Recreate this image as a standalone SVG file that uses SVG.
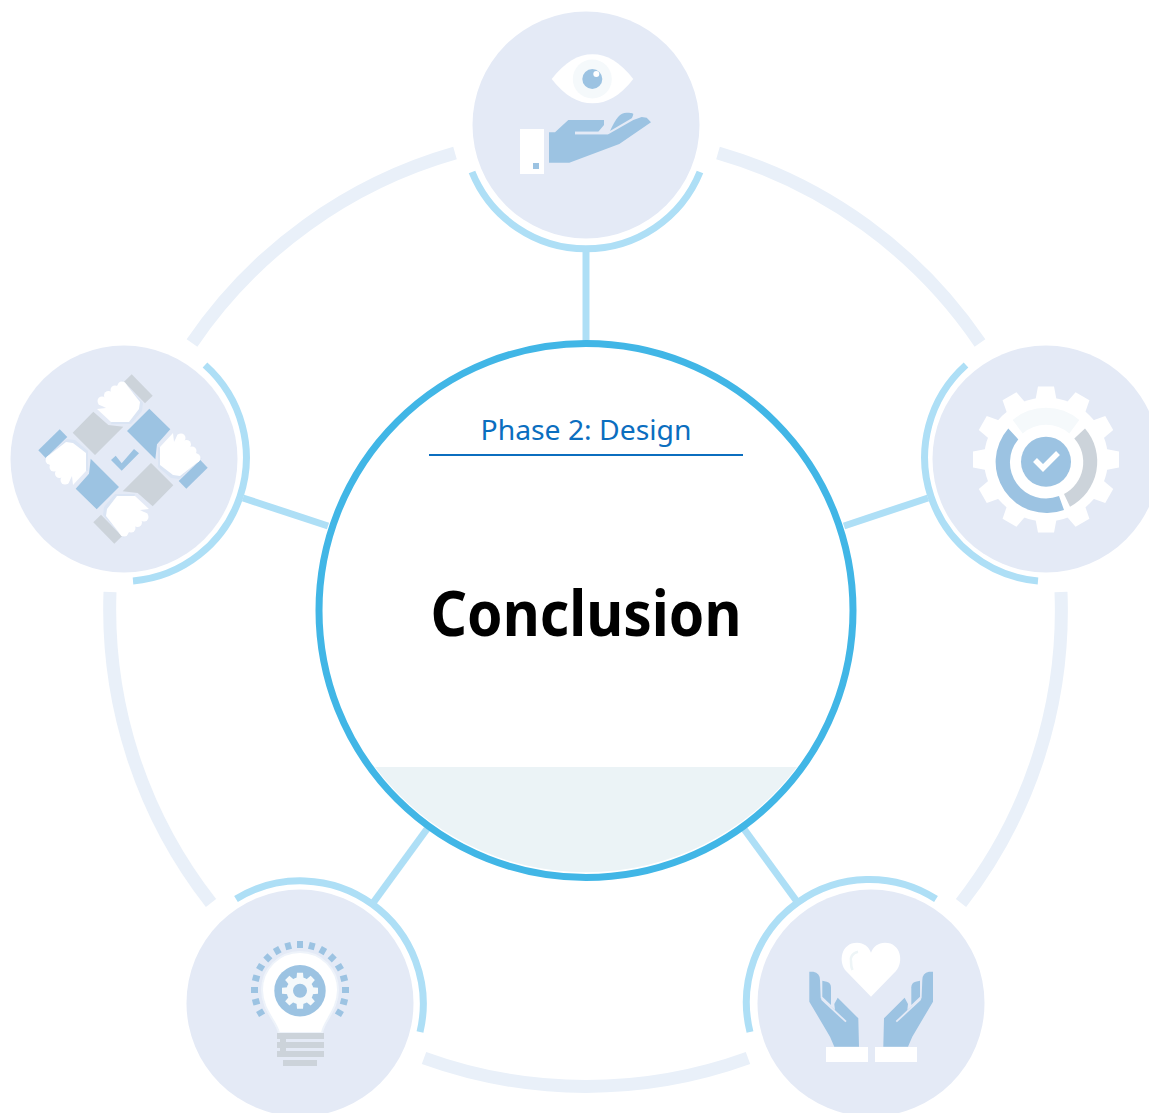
<svg xmlns="http://www.w3.org/2000/svg" xmlns:xlink="http://www.w3.org/1999/xlink" width="1149" height="1113" viewBox="0 0 1149 1113">
<style>
.ring{fill:none;stroke:#e9f0f9;stroke-width:13}
.arc{fill:none;stroke:#aedff6;stroke-width:7}
.spoke{fill:none;stroke:#aedff6;stroke-width:7}
.bg{fill:#e4eaf6}
.b{fill:#9cc3e2}
.g{fill:#ccd3da}
.w{fill:#fff}
.p{fill:#f5f9fb}
text{text-anchor:middle;font-family:"Noto Sans","Open Sans","Liberation Sans",sans-serif}
</style>
<defs>
<polygon id="tooth" points="-10.5,-60 -8,-73 8,-73 10.5,-60" fill="#fff"/>
<polygon id="tooth2" points="-3.5,-12 -3,-18 3,-18 3.5,-12" fill="#f5f9fb"/>
<rect id="ray" x="-3" y="-49" width="6" height="7" fill="#9cc3e2"/>
<polygon id="strip" points="131.7,374.3 152.7,395.7 145,403.3 124,381.7"/>
<polygon id="sq" points="93.3,411.7 108.3,425 123.3,426.7 95,455 72.7,432.7"/>
<g id="palm">
<path d="M122 380L143 403L142 411L131 424L111 424Z" fill="#dbe5f4"/>
<path d="M98 404L120 383L126 384L140 402L139 409L129 422L111 422L97 409L106 408Z" fill="#fff"/>
<circle cx="102" cy="401" r="4.5" fill="#fff"/><circle cx="108.5" cy="395.5" r="4.5" fill="#fff"/><circle cx="115" cy="390" r="4.5" fill="#fff"/><circle cx="122" cy="386" r="4.5" fill="#fff"/>
</g>
<g id="hand">
<path class="b" d="M809.300 971.700H813.300Q820 973 820 980L820.700 998.300L835 1010L834.300 1004L837.700 997.700L858.300 1018.300L859 1046.700H834.300L830 1036.700L809.300 1001.700Z"/>
<path class="b" d="M822.300 980.700L826.700 981.700Q831 983 831 987.300V1005L822.300 996.700Z"/>
<path d="M821.700 999L846 1021.700" fill="none" stroke="#e4eaf6" stroke-width="1.800"/>
</g>
</defs>

<g id="connectors">
<path class="ring" d="M455 153A476 476 0 0 0 192 343"/>
<path class="ring" d="M718 153A476 476 0 0 1 980 343"/>
<path class="ring" d="M1061 592A476 476 0 0 1 961 903"/>
<path class="ring" d="M748 1058A476 476 0 0 1 424 1058"/>
<path class="ring" d="M211 903A476 476 0 0 1 110 592"/>
<path class="spoke" d="M586 250V342"/>
<path class="spoke" d="M243 498L328 526"/>
<path class="spoke" d="M928 498L844 526"/>
<path class="spoke" d="M373 903L427 829"/>
<path class="spoke" d="M798 903L744 829"/>
<path class="arc" d="M472 172A123 123 0 0 0 700 172"/>
<path class="arc" d="M205 365A124 124 0 0 1 133 581"/>
<path class="arc" d="M966 365A124 124 0 0 0 1038 581"/>
<path class="arc" d="M236 899A123 123 0 0 1 420 1032"/>
<path class="arc" d="M936 899A123 123 0 0 0 750 1032"/>
</g>

<g id="center">
<circle cx="586" cy="610.500" r="267" fill="#fff" stroke="none"/>
<path d="M375 767H797A264 264 0 0 1 375 767Z" fill="#ebf3f6"/>
<circle cx="586" cy="610.500" r="267" fill="none" stroke="#41b6e6" stroke-width="7"/>
<text x="586" y="440" font-size="28" fill="#0b6ebf" textLength="211" lengthAdjust="spacingAndGlyphs">Phase 2: Design</text>
<path d="M429 455H743" stroke="#0b6ebf" stroke-width="2" fill="none"/>
<text x="586" y="636" font-size="63" font-weight="700" fill="#000" textLength="311" lengthAdjust="spacingAndGlyphs">Conclusion</text>
</g>

<g id="node-top">
<circle class="bg" cx="586" cy="125" r="113.500"/>
<path class="w" d="M551.700 79C565 62 578 54.300 592.500 54.300C607 54.300 620 62 633.300 79C620 96 607 103.300 592.500 103.300C578 103.300 565 96 551.700 79Z"/>
<circle class="p" cx="592.300" cy="79" r="19.500"/>
<circle class="b" cx="592.300" cy="79" r="10"/>
<circle class="w" cx="596.300" cy="74" r="3"/>
<rect class="w" x="520" y="129" width="24" height="45"/>
<rect class="b" x="533" y="163" width="6" height="6"/>
<path class="b" d="M549 132.300H555L568.300 120H604V125L598.300 131.700H575V134.300H608.300L633.300 120L641.700 117L646.700 117.700L651 122.300L619.300 144L569.300 162.700H549Z"/>
<path d="M575 133H608" stroke="#e4eaf6" stroke-width="2.500" fill="none"/>
<path class="b" d="M610 131C616 118 620 112.700 626.700 112.700C630 112.700 633.300 113 633.300 114C633 116 632 118 631.700 118.300Z"/>
</g>

<g id="node-right">
<circle class="bg" cx="1046" cy="459" r="113.500"/>
<circle class="w" cx="1046" cy="459.500" r="62"/>
<g transform="translate(1046 459.500)">
<use href="#tooth"/><use href="#tooth" transform="rotate(30)"/><use href="#tooth" transform="rotate(60)"/><use href="#tooth" transform="rotate(90)"/><use href="#tooth" transform="rotate(120)"/><use href="#tooth" transform="rotate(150)"/><use href="#tooth" transform="rotate(180)"/><use href="#tooth" transform="rotate(210)"/><use href="#tooth" transform="rotate(240)"/><use href="#tooth" transform="rotate(270)"/><use href="#tooth" transform="rotate(300)"/><use href="#tooth" transform="rotate(330)"/>
</g>
<path class="b" d="M1008.300 428.400A51 51 0 0 0 1064 510L1059 496A36 36 0 0 1 1018.300 439.400Z"/>
<path class="g" d="M1085 428.400A51 51 0 0 1 1070 506.700L1064 494A36 36 0 0 0 1074.300 438.400Z"/>
<path class="p" d="M1012.700 420A51 51 0 0 1 1079.300 420L1069.300 433.400A36 36 0 0 0 1022.700 433.400Z"/>
<circle class="b" cx="1046" cy="461.700" r="25"/>
<path d="M1035 460L1043 468L1058 453" fill="none" stroke="#fff" stroke-width="5.500"/>
</g>

<g id="node-left">
<circle class="bg" cx="124" cy="459" r="113.500"/>
<use href="#strip" class="g"/>
<use href="#strip" class="b" transform="rotate(90 123 459)"/>
<use href="#strip" class="g" transform="rotate(180 123 459)"/>
<use href="#strip" class="b" transform="rotate(270 123 459)"/>
<use href="#sq" class="g"/>
<use href="#sq" class="b" transform="rotate(90 123 459)"/>
<use href="#sq" class="g" transform="rotate(180 123 459)"/>
<use href="#sq" class="b" transform="rotate(270 123 459)"/>
<use href="#palm"/>
<use href="#palm" transform="rotate(90 123 459)"/>
<use href="#palm" transform="rotate(180 123 459)"/>
<use href="#palm" transform="rotate(270 123 459)"/>
<path class="b" d="M111 460L115.700 455.700L121.700 463.300L134 449L139 453.300L121.700 470.700Z"/>
</g>

<g id="node-bottom-left">
<circle class="bg" cx="300" cy="1003" r="113.500"/>
<g transform="translate(300 990)">
<use href="#ray"/><use href="#ray" transform="rotate(15)"/><use href="#ray" transform="rotate(30)"/><use href="#ray" transform="rotate(45)"/><use href="#ray" transform="rotate(60)"/><use href="#ray" transform="rotate(75)"/><use href="#ray" transform="rotate(90)"/><use href="#ray" transform="rotate(105)"/><use href="#ray" transform="rotate(120)"/><use href="#ray" transform="rotate(-15)"/><use href="#ray" transform="rotate(-30)"/><use href="#ray" transform="rotate(-45)"/><use href="#ray" transform="rotate(-60)"/><use href="#ray" transform="rotate(-75)"/><use href="#ray" transform="rotate(-90)"/><use href="#ray" transform="rotate(-105)"/><use href="#ray" transform="rotate(-120)"/>
</g>
<path class="w" stroke="#eef3fa" stroke-width="2" d="M279 1033C277 1022 262 1010 262 990A38 38 0 0 1 338 990C338 1010 323 1022 322 1033Z"/>
<circle class="b" cx="300" cy="990.700" r="25.700"/>
<g transform="translate(300 990.700)">
<circle class="p" r="13.500"/>
<use href="#tooth2"/><use href="#tooth2" transform="rotate(45)"/><use href="#tooth2" transform="rotate(90)"/><use href="#tooth2" transform="rotate(135)"/><use href="#tooth2" transform="rotate(180)"/><use href="#tooth2" transform="rotate(225)"/><use href="#tooth2" transform="rotate(270)"/><use href="#tooth2" transform="rotate(315)"/>
<circle class="b" r="7"/>
</g>
<rect class="g" x="277" y="1033" width="47" height="6"/>
<rect class="g" x="277" y="1042" width="47" height="6"/>
<rect class="g" x="277" y="1051" width="47" height="6"/>
<rect class="g" x="283" y="1060" width="34" height="6"/>
<rect class="g" x="280" y="1039" width="6" height="3"/>
<rect class="g" x="280" y="1048" width="6" height="3"/>
</g>

<g id="node-bottom-right">
<circle class="bg" cx="871" cy="1003" r="113.500"/>
<path class="w" d="M871 996.700L846 971C838 962 841 942.700 857 942.700C864 942.700 869 947 871 952.700C873 947 878 942.700 885 942.700C901 942.700 904 962 896 971Z"/>
<path d="M858 951.700C852 953 850 958 851 961C851 965 851.500 968 852.500 970" fill="none" stroke="#eef5f7" stroke-width="2.500"/>
<use href="#hand"/>
<use href="#hand" transform="translate(1742.300 0) scale(-1 1)"/>
<rect class="w" x="826" y="1047" width="42" height="15"/>
<rect class="w" x="875" y="1047" width="42" height="15"/>
</g>
</svg>
